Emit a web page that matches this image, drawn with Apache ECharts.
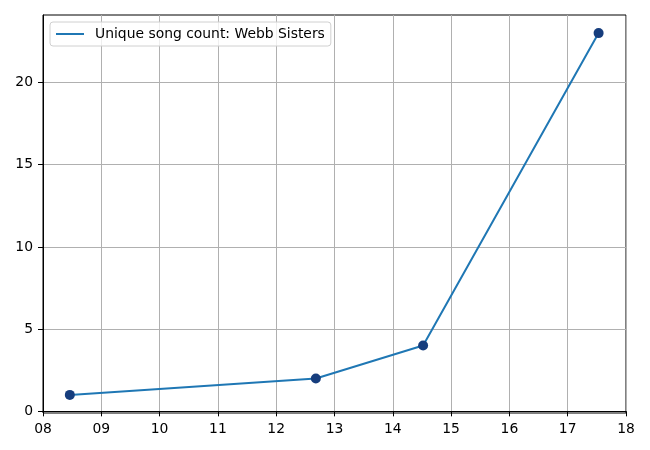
<!DOCTYPE html>
<html>
<head>
<meta charset="utf-8">
<script src="https://cdn.jsdelivr.net/npm/echarts@6/dist/echarts.min.js"></script>
<style>html,body{margin:0;padding:0;background:#fff}#c{width:650px;height:450px}</style>
</head>
<body>
<div id="c"></div>
<script>
// Data (x = year within 2000s, fractional)
var seriesName = 'Unique song count: Webb Sisters';
var xYears = [8.46, 12.68, 14.52, 17.53];
var songCounts = [1, 2, 4, 23];
var yTicks = [0, 5, 10, 15, 20];
var xTicks = [8, 9, 10, 11, 12, 13, 14, 15, 16, 17, 18];

var pts = xYears.map(function (x, i) { return [x, songCounts[i]]; });
var font = 'DejaVu Sans';
var fs = 13.9;
var chart = echarts.init(document.getElementById('c'));
chart.setOption({
  animation: false,
  backgroundColor: '#fff',
  grid: { left: 43, right: 24, top: 15, bottom: 37, show: true, borderColor: '#000', borderWidth: 1, containLabel: false },
  legend: {
    left: 50, top: 22, padding: [5, 6, 5, 6],
    backgroundColor: 'rgba(255,255,255,0.8)', borderColor: '#d0d0d0', borderWidth: 1, borderRadius: 3,
    itemWidth: 28, itemHeight: 2, itemGap: 10,
    icon: 'rect',
    data: [seriesName],
    textStyle: { fontFamily: font, fontSize: fs, color: '#000', padding: [0, 0, 0, 6] }
  },
  xAxis: {
    type: 'value', min: 8, max: 18, interval: 1,
    axisLine: { show: true, lineStyle: { color: '#000', width: 1 } },
    axisTick: { show: true, length: 5, lineStyle: { color: '#000' } },
    axisLabel: { fontFamily: font, fontSize: fs, color: '#000', margin: 9,
      formatter: function (v) { return v < 10 ? '0' + v : '' + v; } },
    splitLine: { show: true, lineStyle: { color: '#b0b0b0', width: 1 } }
  },
  yAxis: {
    type: 'value', min: -0.1, max: 24.1,
    axisLine: { show: true, lineStyle: { color: '#000', width: 1 } },
    axisTick: { show: true, length: 5, customValues: yTicks, lineStyle: { color: '#000' } },
    axisLabel: { fontFamily: font, fontSize: fs, color: '#000', margin: 10, customValues: yTicks },
    splitLine: { show: true, lineStyle: { color: '#b0b0b0', width: 1 } }
  },
  series: [
    { name: seriesName, type: 'line', data: pts, showSymbol: false, symbol: 'none',
      lineStyle: { color: '#1f77b4', width: 2 }, itemStyle: { color: '#1f77b4' }, z: 3 },
    { name: 'pts', type: 'scatter', data: pts, symbol: 'circle', symbolSize: 10,
      itemStyle: { color: '#163d7d', opacity: 1 }, z: 4 }
  ]
});
</script>
</body>
</html>
